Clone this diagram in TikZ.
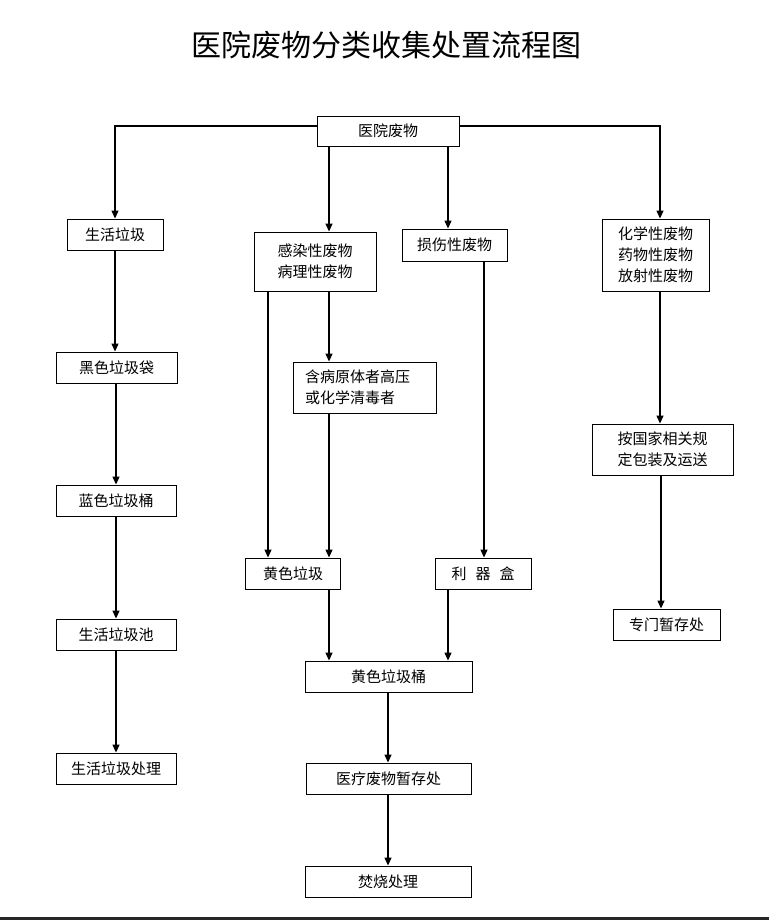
\documentclass[tikz,border=0pt]{standalone}
\usepackage{fontspec}
\setmainfont{Noto Sans CJK SC}
\usetikzlibrary{arrows.meta}
\begin{document}
\begin{tikzpicture}[x=1pt,y=-1pt,
  box/.style={draw=black,line width=0.9pt,fill=white,inner sep=0pt,align=center,
    font=\fontsize{15}{21}\selectfont},
  arr/.style={line width=1.3pt,-{Triangle[length=8pt,width=7pt]}},
  ln/.style={line width=1.3pt}]
\useasboundingbox (0,0) rectangle (769,920);
\node (title) at (386,45) {\fontsize{30}{34}\selectfont 医院废物分类收集处置流程图};
% nodes
\node[box,minimum width=142,minimum height=30] (top) at (388,131) {医院废物};
\node[box,minimum width=96,minimum height=31] (life) at (115,234.5) {生活垃圾};
\node[box,minimum width=122,minimum height=59] (inf) at (315,261.5) {感染性废物\\病理性废物};
\node[box,minimum width=105,minimum height=32] (sharp) at (454.5,245) {损伤性废物};
\node[box,minimum width=107,minimum height=72] (chem) at (655.5,255) {化学性废物\\药物性废物\\放射性废物};
\node[box,minimum width=121,minimum height=31] (black) at (116.5,367.5) {黑色垃圾袋};
\node[box,minimum width=120,minimum height=31] (blue) at (116,500.5) {蓝色垃圾桶};
\node[box,minimum width=120,minimum height=31] (pool) at (116,634.5) {生活垃圾池};
\node[box,minimum width=120,minimum height=31] (lifeproc) at (116,768.5) {生活垃圾处理};
\node[box,minimum width=143,minimum height=51,text width=119,inner xsep=12,align=left] (path) at (364.5,387.5) {含病原体者高压\\或化学清毒者};
\node[box,minimum width=95,minimum height=31] (yellow) at (293,573.5) {黄色垃圾};
\node[box,minimum width=96,minimum height=31] (sbox) at (483,573.5) {利\hspace{9pt}器\hspace{9pt}盒};
\node[box,minimum width=167,minimum height=31] (ybin) at (388.5,676.5) {黄色垃圾桶};
\node[box,minimum width=165,minimum height=31] (store) at (388.5,778.5) {医疗废物暂存处};
\node[box,minimum width=166,minimum height=31] (burn) at (388,881.5) {焚烧处理};
\node[box,minimum width=141,minimum height=51] (pack) at (662.5,449.5) {按国家相关规\\定包装及运送};
\node[box,minimum width=107,minimum height=31] (special) at (666.5,624.5) {专门暂存处};
% connectors
\draw[arr] ([yshift=5]top.west) -| (life.north);
\draw[arr] ([yshift=5]top.east) -| (chem.north -| 660,0);
\draw[arr] (top.south -| 329,0) -- (inf.north -| 329,0);
\draw[arr] (top.south -| 448,0) -- (sharp.north -| 448,0);
\draw[arr] (life.south) -- (black.north -| life.south);
\draw[arr] (black.south -| 116,0) -- (blue.north);
\draw[arr] (blue.south) -- (pool.north);
\draw[arr] (pool.south) -- (lifeproc.north);
\draw[arr] (inf.south -| 268,0) -- (yellow.north -| 268,0);
\draw[arr] (inf.south -| 329,0) -- (path.north -| 329,0);
\draw[arr] (path.south -| 329,0) -- (yellow.north -| 329,0);
\draw[arr] (sharp.south -| 484,0) -- (sbox.north -| 484,0);
\draw[arr] (yellow.south -| 329,0) -- (ybin.north -| 329,0);
\draw[arr] (sbox.south -| 448,0) -- (ybin.north -| 448,0);
\draw[arr] (ybin.south -| 388,0) -- (store.north -| 388,0);
\draw[arr] (store.south -| 388,0) -- (burn.north -| 388,0);
\draw[arr] (chem.south -| 660,0) -- (pack.north -| 660,0);
\draw[arr] (pack.south -| 661,0) -- (special.north -| 661,0);
% bottom rule
\coordinate (bl) at (0,918.5);
\coordinate (br) at (769,918.5);
\draw[line width=3pt,black!85] (bl) -- (br);
\end{tikzpicture}
\end{document}
